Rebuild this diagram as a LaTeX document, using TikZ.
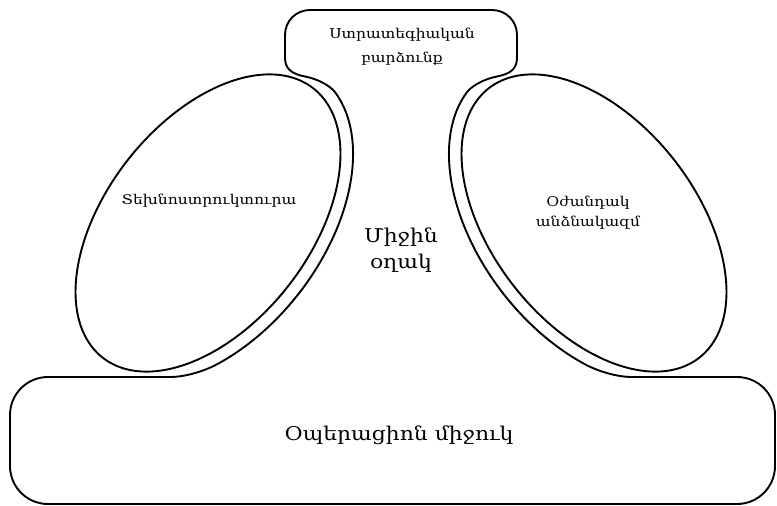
\documentclass[tikz,border=0pt]{standalone}
\usepackage{fontspec}
\setmainfont[FakeStretch=1.15]{DejaVu Serif}
\begin{document}
\begin{tikzpicture}[x=1pt,y=-1pt,line width=1.9pt,line join=round,
  lbl/.style={align=center,inner sep=0pt}]
\useasboundingbox (0,0) rectangle (777,506);
% outline: operating core + middle line + strategic apex
\draw (170,377) -- (48,377) .. controls (27,377) and (10,394) .. (10,415)
  -- (10,466) .. controls (10,487) and (27,504) .. (48,504)
  -- (737,504) .. controls (758,504) and (775,487) .. (775,466)
  -- (775,415) .. controls (775,394) and (758,377) .. (737,377)
  -- (632,377) .. controls (617,377) and (598,371.3) .. (584.8,364.2)
  -- plot[domain=10:125,samples=70] ({594-113.3*cos(135-\x)-90.6*sin(135-\x)},{223-145*cos(135-\x)+70.8*sin(135-\x)})
  .. controls (471.4,86) and (484,79) .. (497,76.5)
  .. controls (510,74) and (517,69) .. (517,58)
  -- (517,35) .. controls (517,21) and (506,10) .. (492,10)
  -- (310,10) .. controls (296,10) and (285,21) .. (285,35)
  -- (285,58) .. controls (285,69) and (292,74) .. (305,76.5)
  .. controls (318,79) and (330.6,86) .. (335.3,92.5)
  -- plot[domain=10:125,samples=70] ({208+113.3*cos(\x)+90.6*sin(\x)},{223-145*cos(\x)+70.8*sin(\x)})
  .. controls (204,371.3) and (185,377) .. (170,377) -- cycle;
% technostructure
\draw plot[domain=0:360,samples=181] ({208+105.3*cos(\x)+80.4*sin(\x)},{223-134.7*cos(\x)+62.8*sin(\x)}) -- cycle;
% support staff
\draw plot[domain=0:360,samples=181] ({594-105.3*cos(\x)-80.4*sin(\x)},{223-134.7*cos(\x)+62.8*sin(\x)}) -- cycle;
% labels
\node[lbl,font=\fontsize{13.5}{24}\selectfont] (apex) at (402,47) {Ստրատեգիական\\բարձունք};
\node[lbl,font=\fontsize{13.5}{15}\selectfont] (techno) at (209,201) {Տեխնոստրուկտուրա};
\node[lbl,font=\fontsize{13.5}{20}\selectfont] (support) at (588,213) {Օժանդակ\\անձնակազմ};
\node[lbl,font=\fontsize{19}{26}\selectfont] (middle) at (401,250) {Միջին\\օղակ};
\node[lbl,font=\fontsize{19}{22}\selectfont] (core) at (399,435) {Օպերացիոն միջուկ};
\end{tikzpicture}
\end{document}
